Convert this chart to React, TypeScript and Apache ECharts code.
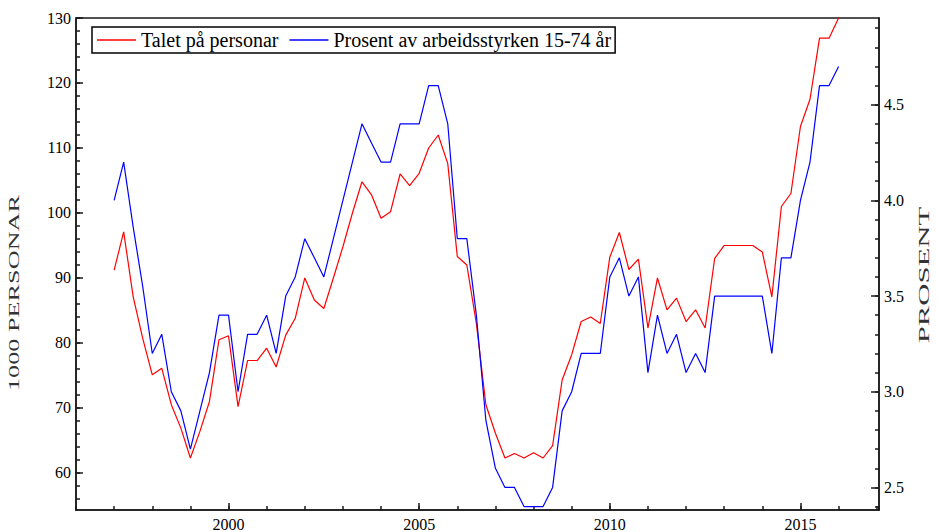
import React, { useEffect, useRef } from 'react';
import * as echarts from 'echarts';

// Quarterly observations, 1997 K1 .. 2016 K1
const START_YEAR = 1997;
const QUARTERS_PER_YEAR = 4;

// Talet på personar (1000 personar), left axis
const persons = [
  91.2, 97.1, 87.1, 80.7, 75.1, 76.1, 70.5, 66.9, 62.3, 66.4,
  71.0, 80.5, 81.1, 70.2, 77.3, 77.3, 79.2, 76.3, 81.2, 83.8,
  90.0, 86.6, 85.3, 90.0, 94.8, 100.0, 104.8, 102.8, 99.2, 100.2,
  106.0, 104.2, 106.1, 110.0, 112.0, 107.6, 93.3, 92.0, 83.0, 70.5,
  66.1, 62.3, 63.0, 62.3, 63.1, 62.3, 64.2, 74.3, 78.2, 83.3,
  84.0, 83.0, 93.2, 97.0, 91.3, 92.9, 82.3, 90.0, 85.1, 86.9,
  83.3, 85.1, 82.3, 93.0, 95.0, 95.0, 95.0, 95.0, 94.0, 87.1,
  101.0, 103.0, 113.3, 117.5, 126.9, 126.9, 130.0,
];

// Prosent av arbeidsstyrken 15-74 år, right axis
const percent = [
  4.0, 4.2, 3.86, 3.55, 3.2, 3.3, 3.0, 2.9, 2.7, 2.9,
  3.1, 3.4, 3.4, 3.0, 3.3, 3.3, 3.4, 3.2, 3.5, 3.6,
  3.8, 3.7, 3.6, 3.8, 4.0, 4.2, 4.4, 4.3, 4.2, 4.2,
  4.4, 4.4, 4.4, 4.6, 4.6, 4.4, 3.8, 3.8, 3.4, 2.85,
  2.6, 2.5, 2.5, 2.4, 2.4, 2.4, 2.5, 2.9, 3.0, 3.2,
  3.2, 3.2, 3.6, 3.7, 3.5, 3.6, 3.1, 3.4, 3.2, 3.3,
  3.1, 3.2, 3.1, 3.5, 3.5, 3.5, 3.5, 3.5, 3.5, 3.2,
  3.7, 3.7, 4.0, 4.2, 4.6, 4.6, 4.7,
];

const SERIES_NAMES = ['Talet på personar', 'Prosent av arbeidsstyrken 15-74 år'];
const LEFT_TITLE = '1000 PERSONAR';
const RIGHT_TITLE = 'PROSENT';

// axis ranges
const X_MIN = 1996;
const X_MAX = 2017.06;
const L_MIN = 54.3;
const L_MAX = 130;
const R_MIN = 2.382;
const R_MAX = 4.953;
// minor tick ranges (multiples of their step)
const L_MINOR = [56, 130, 2];
const R_MINOR = [2.4, 4.9, 0.1];

const FONT = "'Liberation Serif', 'Times New Roman', serif";
const AXIS_COLOR = '#1a1a1a';

export default function App() {
  const ref = useRef<HTMLDivElement>(null);

  useEffect(() => {
    const el = ref.current;
    if (!el) return;
    const chart = echarts.init(el, undefined, { renderer: 'svg' });

    const time = persons.map((_, i) => START_YEAR + i / QUARTERS_PER_YEAR);
    const redData = persons.map((v, i) => [time[i], v]);
    const blueData = percent.map((v, i) => [time[i], v]);

    const PL = 76, PT = 18, PW = 803, PH = 492;
    const kl = PH / (L_MAX - L_MIN);
    const kr = PH / (R_MAX - R_MIN);

    const lineStyle = { color: AXIS_COLOR, width: 1.5 };
    const labelStyle = { fontFamily: FONT, fontSize: 16, color: '#000' };

    const option: any = {
      animation: false,
      backgroundColor: '#fff',
      grid: [
        { left: PL, top: PT, width: PW, height: PH, show: true, borderColor: AXIS_COLOR, borderWidth: 1.5, containLabel: false },
        { left: PL, top: PT + (L_MAX - L_MINOR[1]) * kl, width: PW, height: (L_MINOR[1] - L_MINOR[0]) * kl, containLabel: false },
        { left: PL, top: PT + (R_MAX - R_MINOR[1]) * kr, width: PW, height: (R_MINOR[1] - R_MINOR[0]) * kr, containLabel: false },
      ],
      legend: {
        left: 92,
        top: 27,
        icon: 'rect',
        itemWidth: 39,
        itemHeight: 1.5,
        itemGap: 11,
        padding: [2, 4, 2, 5],
        borderColor: '#000',
        borderWidth: 1.5,
        backgroundColor: '#fff',
        textStyle: { fontFamily: FONT, fontSize: 20, color: '#000', lineHeight: 22 },
        data: SERIES_NAMES,
      },
      xAxis: [
        {
          gridIndex: 0, type: 'value', position: 'bottom', min: X_MIN, max: X_MAX, splitNumber: 4,
          axisLine: { show: true, lineStyle },
          axisTick: { show: true, inside: true, length: 7, lineStyle },
          axisLabel: { ...labelStyle, margin: 6, showMinLabel: false, showMaxLabel: false, formatter: (v: number) => String(v) },
          splitLine: { show: false },
        },
        {
          gridIndex: 0, type: 'value', position: 'bottom', min: X_MIN, max: X_MAX, interval: 1,
          axisLine: { show: false },
          axisTick: { show: true, inside: true, length: 4, lineStyle },
          axisLabel: { show: false },
          splitLine: { show: false },
        },
        { gridIndex: 1, type: 'value', min: X_MIN, max: X_MAX, show: false },
        { gridIndex: 2, type: 'value', min: X_MIN, max: X_MAX, show: false },
      ],
      yAxis: [
        {
          gridIndex: 0, type: 'value', position: 'left', min: L_MIN, max: L_MAX, splitNumber: 7,
          axisLine: { show: true, lineStyle },
          axisTick: { show: true, inside: true, length: 7, lineStyle },
          axisLabel: { ...labelStyle, margin: 5, showMinLabel: false, showMaxLabel: true },
          splitLine: { show: false },
        },
        {
          gridIndex: 0, type: 'value', position: 'right', min: R_MIN, max: R_MAX, splitNumber: 5,
          axisLine: { show: true, lineStyle },
          axisTick: { show: true, inside: true, length: 8, lineStyle },
          axisLabel: { ...labelStyle, margin: 5, showMinLabel: false, showMaxLabel: false, formatter: (v: number) => v.toFixed(1) },
          splitLine: { show: false },
        },
        {
          gridIndex: 1, type: 'value', position: 'left', min: L_MINOR[0], max: L_MINOR[1], interval: L_MINOR[2],
          axisLine: { show: false },
          axisTick: { show: true, inside: true, length: 4, lineStyle },
          axisLabel: { show: false },
          splitLine: { show: false },
        },
        {
          gridIndex: 2, type: 'value', position: 'right', min: R_MINOR[0], max: R_MINOR[1], interval: R_MINOR[2],
          axisLine: { show: false },
          axisTick: { show: true, inside: true, length: 4, lineStyle },
          axisLabel: { show: false },
          splitLine: { show: false },
        },
      ],
      series: [
        {
          name: SERIES_NAMES[0], type: 'line', xAxisIndex: 0, yAxisIndex: 0,
          data: redData, symbol: 'none', showSymbol: false,
          lineStyle: { color: '#ff0000', width: 1.2 }, itemStyle: { color: '#ff0000' },
        },
        {
          name: SERIES_NAMES[1], type: 'line', xAxisIndex: 0, yAxisIndex: 1,
          data: blueData, symbol: 'none', showSymbol: false,
          lineStyle: { color: '#0000ff', width: 1.2 }, itemStyle: { color: '#0000ff' },
        },
      ],
      graphic: [
        {
          type: 'text', x: 14, y: 293, rotation: Math.PI / 2, scaleX: 1.75,
          style: { text: LEFT_TITLE, font: `15px ${FONT}`, fill: '#333', align: 'center', verticalAlign: 'middle', textAlign: 'center', textVerticalAlign: 'middle' },
        },
        {
          type: 'text', x: 924, y: 275, rotation: Math.PI / 2, scaleX: 2.05,
          style: { text: RIGHT_TITLE, font: `15px ${FONT}`, fill: '#333', align: 'center', verticalAlign: 'middle', textAlign: 'center', textVerticalAlign: 'middle' },
        },
      ],
    };

    chart.setOption(option);
    return () => chart.dispose();
  }, []);

  return (
    <div
      ref={ref}
      style={{ position: 'fixed', left: 0, top: 0, width: 937, height: 532, background: '#fff' }}
    />
  );
}
